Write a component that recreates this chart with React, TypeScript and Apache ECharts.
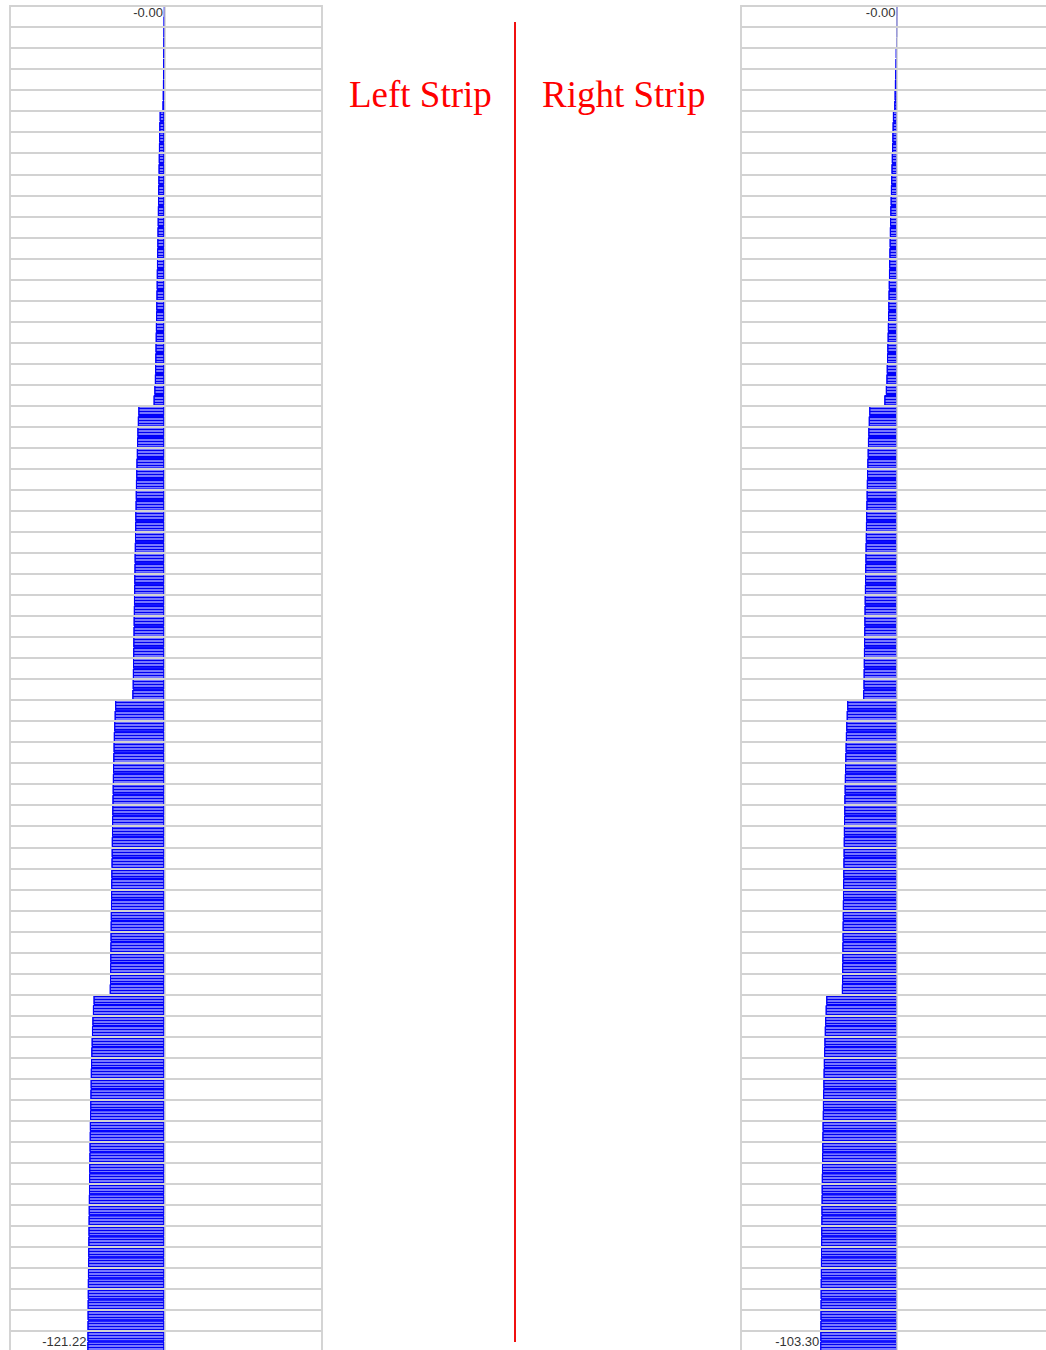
import React, { useEffect, useRef } from "react";
import * as echarts from "echarts";

// Left strip: four steps of values, two bars per grid row
const leftStep1 = [-0.001, -0.5, -0.8, -1.0, -1.3, -1.6, -2.0, -2.3, -2.6, -3.0, -7.5, -8.0, -8.3, -8.6, -8.9, -9.2, -9.5, -9.8, -10.0, -10.3, -10.6, -10.9, -11.1, -11.4, -11.7, -12.0, -12.2, -12.5, -12.8, -13.1, -13.4, -13.7, -14.0, -14.3, -14.6, -15.0, -15.8, -17.0];
const leftStep2 = [-41.0, -41.8, -42.5, -43.0, -43.4, -44.0, -44.3, -44.8, -45.1, -45.4, -45.8, -46.0, -46.3, -46.6, -46.9, -47.1, -47.4, -47.6, -47.9, -48.1, -48.4, -48.6, -48.9, -49.1, -49.4, -49.6, -49.9, -50.4];
const leftStep3 = [-77.5, -78.3, -79.0, -79.6, -80.0, -80.4, -80.8, -81.1, -81.4, -81.7, -82.0, -82.3, -82.5, -82.8, -83.0, -83.2, -83.5, -83.7, -83.9, -84.1, -84.4, -84.6, -84.8, -85.0, -85.2, -85.4, -85.6, -86.0];
const leftStep4 = [-111.5, -112.5, -113.3, -114.0, -114.5, -115.0, -115.4, -115.8, -116.1, -116.4, -116.7, -117.0, -117.3, -117.5, -117.8, -118.0, -118.3, -118.5, -118.7, -118.9, -119.1, -119.3, -119.5, -119.7, -119.9, -120.1, -120.3, -120.5, -120.6, -120.8, -120.9, -121.0, -121.1, -121.22];

// Right strip
const rightStep1 = [-0.001, -0.5, -0.9, -1.3, -1.7, -2.0, -2.4, -2.8, -3.2, -3.6, -5.5, -5.9, -6.2, -6.6, -7.0, -7.4, -7.8, -8.2, -8.6, -9.0, -9.3, -9.6, -9.9, -10.2, -10.5, -10.8, -11.1, -11.4, -11.7, -12.0, -12.3, -12.6, -13.0, -13.4, -13.8, -14.2, -15.0, -17.0];
const rightStep2 = [-37.3, -38.0, -38.6, -39.1, -39.5, -39.9, -40.3, -40.6, -40.9, -41.2, -41.5, -41.8, -42.0, -42.3, -42.5, -42.8, -43.0, -43.2, -43.5, -43.7, -43.9, -44.1, -44.3, -44.5, -44.7, -44.9, -45.1, -45.5];
const rightStep3 = [-67.0, -67.7, -68.3, -68.8, -69.2, -69.6, -69.9, -70.2, -70.5, -70.8, -71.0, -71.3, -71.5, -71.7, -71.9, -72.1, -72.3, -72.5, -72.7, -72.9, -73.0, -73.2, -73.3, -73.5, -73.6, -73.8, -73.9, -74.2];
const rightStep4 = [-95.2, -96.0, -96.7, -97.2, -97.7, -98.1, -98.5, -98.8, -99.1, -99.4, -99.7, -99.9, -100.2, -100.4, -100.6, -100.8, -101.0, -101.2, -101.4, -101.5, -101.7, -101.8, -102.0, -102.1, -102.3, -102.4, -102.5, -102.7, -102.8, -102.9, -103.0, -103.1, -103.2, -103.3];

const leftTitle = "Left Strip";
const rightTitle = "Right Strip";

const leftValues = [...leftStep1, ...leftStep2, ...leftStep3, ...leftStep4];
const rightValues = [...rightStep1, ...rightStep2, ...rightStep3, ...rightStep4];

function makeSeriesData(values: number[]) {
  const n = values.length;
  return values.map((v, i) => {
    if (i === 0) return { value: v, label: { show: true, offset: [0, 1] } };
    if (i === n - 1) return { value: v, label: { show: true, offset: [0, -5] } };
    return { value: v };
  });
}

function makeYAxis(gridIndex: number, n: number) {
  return {
    type: "category",
    gridIndex,
    inverse: true,
    data: Array.from({ length: n }, (_, i) => String(i + 1)),
    z: 5,
    axisLabel: { show: false },
    axisTick: { show: false },
    axisLine: { show: true, onZero: true, lineStyle: { color: "#cfcfcf", width: 1.5 } },
    splitLine: { show: true, interval: 1, lineStyle: { color: "#d2d2d2", width: 2 } },
  };
}

function makeXAxis(gridIndex: number, min: number, max: number) {
  return {
    type: "value",
    gridIndex,
    min,
    max,
    axisLabel: { show: false },
    axisTick: { show: false },
    axisLine: { show: false },
    splitLine: { show: false },
  };
}

function makeSeries(idx: number, values: number[]) {
  return {
    type: "bar",
    xAxisIndex: idx,
    yAxisIndex: idx,
    data: makeSeriesData(values),
    barCategoryGap: "0%",
    itemStyle: {
      color: "#7878ff",
      borderColor: "#0000ff",
      borderWidth: 1,
      decal: {
        symbol: "rect",
        symbolSize: 1,
        color: "#0000f0",
        dashArrayX: [1, 0],
        dashArrayY: [1, 2],
        rotation: 0,
      },
    },
    label: {
      show: false,
      position: "left",
      distance: 1,
      fontSize: 13,
      color: "#333333",
      fontFamily: "Liberation Sans, Arial, sans-serif",
      formatter: (p: any) => Number(p.value).toFixed(2),
    },
  };
}

export default function App() {
  const ref = useRef<HTMLDivElement>(null);
  useEffect(() => {
    if (!ref.current) return;
    const chart = echarts.init(ref.current, undefined, { renderer: "svg" });
    chart.setOption({
      animation: false,
      backgroundColor: "#ffffff",
      grid: [
        { left: 10, top: 6, width: 312, bottom: 4, show: true, borderColor: "#d4d4d4", borderWidth: 2, backgroundColor: "transparent" },
        { left: 741, top: 6, width: 312, bottom: 4, show: true, borderColor: "#d4d4d4", borderWidth: 2, backgroundColor: "transparent" },
      ],
      xAxis: [makeXAxis(0, -243, 248), makeXAxis(1, -210, 210)],
      yAxis: [makeYAxis(0, leftValues.length), makeYAxis(1, rightValues.length)],
      series: [makeSeries(0, leftValues), makeSeries(1, rightValues)],
      graphic: [
        {
          type: "line",
          shape: { x1: 515, y1: 22, x2: 515, y2: 1342 },
          style: { stroke: "#f01010", lineWidth: 2 },
        },
        {
          type: "text",
          x: 349,
          y: 94,
          style: {
            text: leftTitle,
            fill: "#ff0000",
            fontSize: 37,
            fontFamily: "Liberation Serif, Times New Roman, serif",
            textVerticalAlign: "middle",
            verticalAlign: "middle",
          },
        },
        {
          type: "text",
          x: 542,
          y: 94,
          style: {
            text: rightTitle,
            fill: "#ff0000",
            fontSize: 37,
            fontFamily: "Liberation Serif, Times New Roman, serif",
            textVerticalAlign: "middle",
            verticalAlign: "middle",
          },
        },
      ],
    });
    return () => chart.dispose();
  }, []);
  return (
    <div style={{ position: "fixed", left: 0, top: 0, width: 1046, height: 1350, overflow: "hidden", background: "#fff" }}>
      <div ref={ref} style={{ width: 1070, height: 1356 }} />
    </div>
  );
}
